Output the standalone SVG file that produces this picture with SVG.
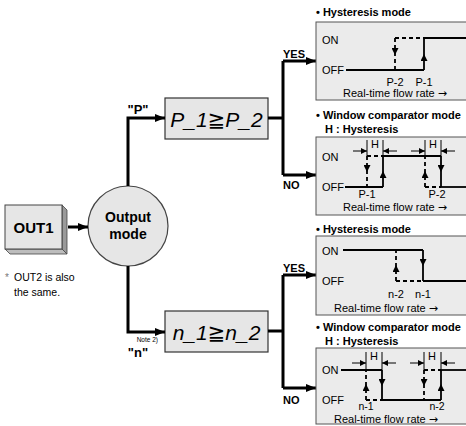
<svg xmlns="http://www.w3.org/2000/svg" width="466" height="426" viewBox="0 0 466 426">
<defs>
<marker id="ah" markerUnits="userSpaceOnUse" markerWidth="10" markerHeight="8" refX="10" refY="4" orient="auto"><path d="M0,0 L10,4 L0,8 z" fill="#000"/></marker>
<marker id="sa" markerUnits="userSpaceOnUse" markerWidth="8" markerHeight="7" refX="7" refY="3.5" orient="auto"><path d="M0,0 L7,3.5 L0,7 z" fill="#000"/></marker>
<marker id="da" markerUnits="userSpaceOnUse" markerWidth="7" markerHeight="6" refX="6" refY="3" orient="auto"><path d="M0,0 L6,3 L0,6 z" fill="#000"/></marker>
</defs>
<style>
text{font-family:"Liberation Sans",Arial,sans-serif;fill:#000}
.b{font-weight:bold}
.t{font-size:11px;font-weight:bold}
.l{font-size:11px}
.s{font-size:10.5px}
.arr{font-family:"DejaVu Sans",sans-serif;font-size:11px}
.panel{fill:#ebebeb;stroke:#555;stroke-width:1}
.disp{fill:#e6e6e6;stroke:#333;stroke-width:1.2}
.seg{font-size:21px;font-style:italic;font-family:"Liberation Sans","DejaVu Sans","Noto Sans CJK JP",sans-serif}
.conn{fill:none;stroke:#000;stroke-width:3}
.sol{fill:none;stroke:#000;stroke-width:1.8}
.dsh{fill:none;stroke:#000;stroke-width:1.8;stroke-dasharray:4,3}
.ext{fill:none;stroke:#000;stroke-width:1}
.up{marker-mid:url(#sa)}
.dn{marker-mid:url(#sa)}
</style>
<rect width="466" height="426" fill="#fff"/>

<g id="out1">
<polygon points="62,205 67,210 67,254 62,249" fill="#9a9a9a" stroke="#444" stroke-width="0.8"/>
<polygon points="5,249 62,249 67,254 10,254" fill="#bdbdbd" stroke="#444" stroke-width="0.8"/>
<rect x="5" y="205" width="57" height="44" fill="#e6e6e6" stroke="#444" stroke-width="1"/>
<text x="33.5" y="233" class="b" font-size="15" text-anchor="middle">OUT1</text>
</g>

<g id="note">
<text x="5" y="281" font-size="10" style="fill:#777">*</text>
<text x="14" y="281" font-size="10.5">OUT2 is also</text>
<text x="14" y="296" font-size="10.5">the same.</text>
</g>

<g id="output-mode">
<circle cx="128" cy="226" r="40" fill="#e6e6e6" stroke="#444" stroke-width="1.2"/>
<text x="128" y="222" class="b" font-size="14" text-anchor="middle">Output</text>
<text x="128" y="239" class="b" font-size="14" text-anchor="middle">mode</text>
</g>

<g id="disp-p">
<rect x="165" y="98" width="103" height="41" class="disp"/>
<text x="216.5" y="127" class="seg" text-anchor="middle">P_1≧P_2</text>
</g>

<g id="disp-n">
<rect x="165" y="311" width="103" height="41" class="disp"/>
<text x="216.5" y="340" class="seg" text-anchor="middle">n_1≧n_2</text>
</g>

<g id="connectors">
<path class="conn" d="M68,227 H88" marker-end="url(#ah)"/>
<path class="conn" d="M128,186 V118 H165" marker-end="url(#ah)"/>
<path class="conn" d="M128,266 V332 H165" marker-end="url(#ah)"/>
<path class="conn" d="M268,118 H283"/>
<path class="conn" d="M283,61 V175"/>
<path class="conn" d="M283,61 H316" marker-end="url(#ah)"/>
<path class="conn" d="M283,175 H316" marker-end="url(#ah)"/>
<path class="conn" d="M268,331 H283"/>
<path class="conn" d="M283,275 V388"/>
<path class="conn" d="M283,275 H316" marker-end="url(#ah)"/>
<path class="conn" d="M283,388 H316" marker-end="url(#ah)"/>
<text x="138" y="114" class="b" font-size="13" text-anchor="middle">"P"</text>
<text x="158" y="342" font-size="6.5" text-anchor="end">Note 2)</text>
<text x="138" y="357" class="b" font-size="13" text-anchor="middle">"n"</text>
<text x="283" y="58" class="t">YES</text>
<text x="283" y="189" class="t">NO</text>
<text x="283" y="272" class="t">YES</text>
<text x="283" y="404" class="t">NO</text>
</g>

<g id="p-hysteresis">
<text x="316" y="16" class="t">• Hysteresis mode</text>
<rect x="316" y="22" width="155" height="78" class="panel"/>
<text x="322" y="44" class="l">ON</text>
<text x="322" y="74" class="l">OFF</text>
<path class="sol" d="M346,70 H424"/>
<path class="sol up" d="M424,70 V54 V38"/>
<path class="sol" d="M424,38 H468"/>
<path class="dsh" d="M395,38 H424"/>
<path class="dsh dn" d="M395,38 V55 V70"/>
<text x="395" y="86" class="l" text-anchor="middle">P-2</text>
<text x="424" y="86" class="l" text-anchor="middle">P-1</text>
<text x="395" y="97" class="l" text-anchor="middle">Real-time flow rate <tspan class="arr">→</tspan></text>
</g>

<g id="p-window">
<text x="316" y="119" class="t">• Window comparator mode</text>
<text x="325" y="133" class="t">H : Hysteresis</text>
<rect x="316" y="137" width="155" height="78" class="panel"/>
<text x="322" y="161" class="l">ON</text>
<text x="322" y="191" class="l">OFF</text>
<path class="sol" d="M345,187 H383"/>
<path class="sol up" d="M383,187 V171 V156"/>
<path class="sol" d="M383,156 H441"/>
<path class="sol dn" d="M441,156 V172 V187"/>
<path class="sol" d="M441,187 H468"/>
<path class="dsh" d="M367,156 H383"/>
<path class="dsh dn" d="M367,156 V172 V187"/>
<path class="dsh" d="M425,187 H441"/>
<path class="dsh up" d="M425,187 V171 V156"/>
<path class="ext" d="M367,140 V156 M383,140 V156 M425,140 V156 M441,140 V156"/>
<path class="ext" d="M353,151 H367" marker-end="url(#da)"/>
<path class="ext" d="M397,151 H383" marker-end="url(#da)"/>
<path class="ext" d="M411,151 H425" marker-end="url(#da)"/>
<path class="ext" d="M455,151 H441" marker-end="url(#da)"/>
<text x="375" y="148" class="l" text-anchor="middle">H</text>
<text x="433" y="148" class="l" text-anchor="middle">H</text>
<text x="367" y="197.5" class="l" text-anchor="middle">P-1</text>
<text x="437" y="197.5" class="l" text-anchor="middle">P-2</text>
<text x="395" y="210.5" class="l" text-anchor="middle">Real-time flow rate <tspan class="arr">→</tspan></text>
</g>

<g id="n-hysteresis">
<text x="316" y="233" class="t">• Hysteresis mode</text>
<rect x="316" y="236" width="155" height="79" class="panel"/>
<text x="322" y="255" class="l">ON</text>
<text x="322" y="285" class="l">OFF</text>
<path class="sol" d="M343,250 H423"/>
<path class="sol dn" d="M423,250 V266 V281"/>
<path class="sol" d="M423,281 H468"/>
<path class="dsh up" d="M396,281 V265 V250"/>
<path class="dsh" d="M396,281 H423"/>
<text x="396" y="298" class="l" text-anchor="middle">n-2</text>
<text x="423" y="298" class="l" text-anchor="middle">n-1</text>
<text x="386" y="312" class="l" text-anchor="middle">Real-time flow rate <tspan class="arr">→</tspan></text>
</g>

<g id="n-window">
<text x="316" y="331" class="t">• Window comparator mode</text>
<text x="325" y="345" class="t">H : Hysteresis</text>
<rect x="316" y="348" width="155" height="76" class="panel"/>
<text x="322" y="374" class="l">ON</text>
<text x="322" y="404" class="l">OFF</text>
<path class="sol" d="M341,370 H382"/>
<path class="sol dn" d="M382,370 V386 V400"/>
<path class="sol" d="M382,400 H441"/>
<path class="sol up" d="M441,400 V384 V370"/>
<path class="sol" d="M441,370 H468"/>
<path class="dsh up" d="M366,400 V384 V370"/>
<path class="dsh" d="M366,400 H382"/>
<path class="dsh dn" d="M424,370 V386 V400"/>
<path class="dsh" d="M424,370 H441"/>
<path class="ext" d="M366,352 V370 M382,352 V370 M424,352 V370 M441,352 V370"/>
<path class="ext" d="M352,363 H366" marker-end="url(#da)"/>
<path class="ext" d="M396,363 H382" marker-end="url(#da)"/>
<path class="ext" d="M410,363 H424" marker-end="url(#da)"/>
<path class="ext" d="M455,363 H441" marker-end="url(#da)"/>
<text x="374" y="360" class="l" text-anchor="middle">H</text>
<text x="432" y="360" class="l" text-anchor="middle">H</text>
<text x="366" y="410" class="s" text-anchor="middle">n-1</text>
<text x="437" y="410" class="s" text-anchor="middle">n-2</text>
<text x="386" y="422.5" class="l" text-anchor="middle">Real-time flow rate <tspan class="arr">→</tspan></text>
</g>
</svg>
